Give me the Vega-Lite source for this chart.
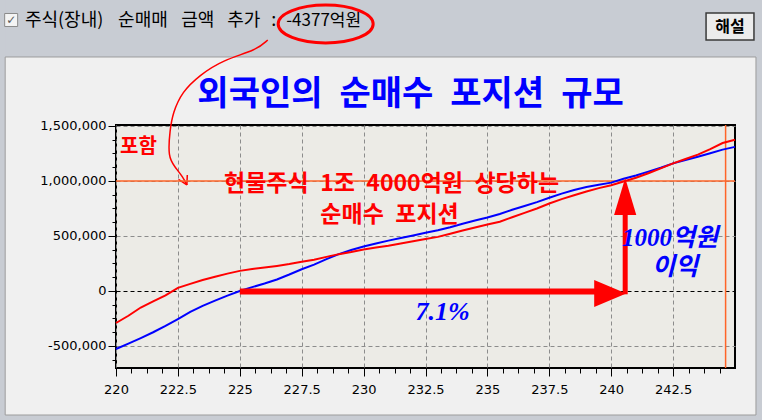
{
  "$schema": "https://vega.github.io/schema/vega-lite/v6.json",
  "width": 619,
  "height": 243,
  "autosize": {"type": "none"},
  "padding": {"left": 116, "top": 125, "right": 27, "bottom": 52},
  "background": "#f0f0f0",
  "config": {
    "view": {"stroke": "#000000", "strokeWidth": 2, "fill": "#ecebe6"},
    "text": {"font": "Noto Sans CJK KR"}
  },
  "datasets": {
    "series": [
      {"s": "blue", "x": 220, "y": -527000}, {"s": "blue", "x": 220.5, "y": -478000}, {"s": "blue", "x": 221, "y": -428000},
      {"s": "blue", "x": 221.5, "y": -375000}, {"s": "blue", "x": 222, "y": -318000}, {"s": "blue", "x": 222.5, "y": -255000},
      {"s": "blue", "x": 223, "y": -190000}, {"s": "blue", "x": 223.5, "y": -135000}, {"s": "blue", "x": 224, "y": -88000},
      {"s": "blue", "x": 224.5, "y": -42000}, {"s": "blue", "x": 225, "y": 0}, {"s": "blue", "x": 225.5, "y": 35000},
      {"s": "blue", "x": 226, "y": 68000}, {"s": "blue", "x": 226.5, "y": 105000}, {"s": "blue", "x": 227, "y": 150000},
      {"s": "blue", "x": 227.5, "y": 198000}, {"s": "blue", "x": 228, "y": 240000}, {"s": "blue", "x": 228.5, "y": 290000},
      {"s": "blue", "x": 229, "y": 335000}, {"s": "blue", "x": 229.5, "y": 372000}, {"s": "blue", "x": 230, "y": 405000},
      {"s": "blue", "x": 230.5, "y": 432000}, {"s": "blue", "x": 231, "y": 458000}, {"s": "blue", "x": 231.5, "y": 482000},
      {"s": "blue", "x": 232, "y": 505000}, {"s": "blue", "x": 232.5, "y": 530000}, {"s": "blue", "x": 233, "y": 553000},
      {"s": "blue", "x": 233.5, "y": 580000}, {"s": "blue", "x": 234, "y": 612000}, {"s": "blue", "x": 234.5, "y": 640000},
      {"s": "blue", "x": 235, "y": 668000}, {"s": "blue", "x": 235.5, "y": 700000}, {"s": "blue", "x": 236, "y": 738000},
      {"s": "blue", "x": 236.5, "y": 772000}, {"s": "blue", "x": 237, "y": 808000}, {"s": "blue", "x": 237.5, "y": 848000},
      {"s": "blue", "x": 238, "y": 885000}, {"s": "blue", "x": 238.5, "y": 918000}, {"s": "blue", "x": 239, "y": 945000},
      {"s": "blue", "x": 239.5, "y": 965000}, {"s": "blue", "x": 240, "y": 985000}, {"s": "blue", "x": 240.5, "y": 1020000},
      {"s": "blue", "x": 241, "y": 1050000}, {"s": "blue", "x": 241.5, "y": 1085000}, {"s": "blue", "x": 242, "y": 1120000},
      {"s": "blue", "x": 242.5, "y": 1160000}, {"s": "blue", "x": 243, "y": 1190000}, {"s": "blue", "x": 243.5, "y": 1220000},
      {"s": "blue", "x": 244, "y": 1252000}, {"s": "blue", "x": 244.5, "y": 1285000}, {"s": "blue", "x": 245, "y": 1310000},
      {"s": "red", "x": 220, "y": -291000}, {"s": "red", "x": 220.5, "y": -225000}, {"s": "red", "x": 221, "y": -150000},
      {"s": "red", "x": 221.5, "y": -95000}, {"s": "red", "x": 222, "y": -40000}, {"s": "red", "x": 222.5, "y": 28000},
      {"s": "red", "x": 223, "y": 65000}, {"s": "red", "x": 223.5, "y": 100000}, {"s": "red", "x": 224, "y": 130000},
      {"s": "red", "x": 224.5, "y": 158000}, {"s": "red", "x": 225, "y": 183000}, {"s": "red", "x": 225.5, "y": 200000},
      {"s": "red", "x": 226, "y": 213000}, {"s": "red", "x": 226.5, "y": 228000}, {"s": "red", "x": 227, "y": 245000},
      {"s": "red", "x": 227.5, "y": 265000}, {"s": "red", "x": 228, "y": 285000}, {"s": "red", "x": 228.5, "y": 310000},
      {"s": "red", "x": 229, "y": 335000}, {"s": "red", "x": 229.5, "y": 355000}, {"s": "red", "x": 230, "y": 378000},
      {"s": "red", "x": 230.5, "y": 395000}, {"s": "red", "x": 231, "y": 412000}, {"s": "red", "x": 231.5, "y": 432000},
      {"s": "red", "x": 232, "y": 452000}, {"s": "red", "x": 232.5, "y": 472000}, {"s": "red", "x": 233, "y": 492000},
      {"s": "red", "x": 233.5, "y": 520000}, {"s": "red", "x": 234, "y": 550000}, {"s": "red", "x": 234.5, "y": 578000},
      {"s": "red", "x": 235, "y": 605000}, {"s": "red", "x": 235.5, "y": 630000}, {"s": "red", "x": 236, "y": 670000},
      {"s": "red", "x": 236.5, "y": 710000}, {"s": "red", "x": 237, "y": 750000}, {"s": "red", "x": 237.5, "y": 795000},
      {"s": "red", "x": 238, "y": 835000}, {"s": "red", "x": 238.5, "y": 870000}, {"s": "red", "x": 239, "y": 905000},
      {"s": "red", "x": 239.5, "y": 935000}, {"s": "red", "x": 240, "y": 962000}, {"s": "red", "x": 240.5, "y": 995000},
      {"s": "red", "x": 241, "y": 1030000}, {"s": "red", "x": 241.5, "y": 1070000}, {"s": "red", "x": 242, "y": 1115000},
      {"s": "red", "x": 242.5, "y": 1160000}, {"s": "red", "x": 243, "y": 1200000}, {"s": "red", "x": 243.5, "y": 1240000},
      {"s": "red", "x": 244, "y": 1290000}, {"s": "red", "x": 244.5, "y": 1345000}, {"s": "red", "x": 245, "y": 1375000}
    ],
    "strips": [
      {"x": 215, "x2": 246.3, "y": 2127273, "y2": 2700000},
      {"x": 215, "x2": 215.524, "y": -1300000, "y2": 2700000},
      {"x": 245.847, "x2": 246.3, "y": -1300000, "y2": 2700000},
      {"x": 215, "x2": 246.3, "y": -1300000, "y2": -1127273}
    ],
    "panel": [{"x": 215.524, "x2": 245.847, "y": -1127273, "y2": 2127273}],
    "checkbox": [{"x": 215.766, "y": 2463636, "t": "✓"}],
    "header": [
      {"x": 217.903, "y": 2454545, "t": "주식(장내)"},
      {"x": 221.089, "y": 2454545, "t": "순매매"},
      {"x": 223.306, "y": 2454545, "t": "금액"},
      {"x": 225.161, "y": 2454545, "t": "추가"},
      {"x": 226.371, "y": 2454545, "t": ":"}
    ],
    "amount": [{"x": 228.387, "y": 2454545, "t": "-4377억원"}],
    "ellipse": [{"x": 228.468, "y": 2427273}],
    "curve": [
      {"i": 1, "x": 226.129, "y": 2281818},
      {"i": 2, "x": 225.685, "y": 2190909},
      {"i": 3, "x": 224.315, "y": 2100000},
      {"i": 4, "x": 223.387, "y": 1963636},
      {"i": 5, "x": 222.661, "y": 1809091},
      {"i": 6, "x": 222.298, "y": 1618182},
      {"i": 7, "x": 222.177, "y": 1463636},
      {"i": 8, "x": 222.097, "y": 1218182},
      {"i": 9, "x": 222.379, "y": 1127273},
      {"i": 10, "x": 222.702, "y": 1036364},
      {"i": 11, "x": 222.863, "y": 963636}
    ],
    "curvehead": [
      {"x": 222.863, "y": 963636, "x2": 222.879, "y2": 1054545},
      {"x": 222.863, "y": 963636, "x2": 222.524, "y2": 1013636}
    ],
    "button": [{"x": 243.831, "x2": 245.766, "y": 2527273, "y2": 2281818}],
    "buttontext": [{"x": 244.798, "y": 2400000, "t": "해설"}],
    "title": [{"x": 231.895, "y": 1781818, "t": "외국인의\u2002순매수\u2002포지션\u2002규모"}],
    "hline": [{"x": 220, "x2": 245, "y": 1000000}],
    "vline": [{"x": 244.62, "y": -700000, "y2": 1509000}],
    "harrow": [{"x": 225, "x2": 239.4, "y": -5000}],
    "harrowhead": [{"x": 239.96, "y": -22727}],
    "varrow": [{"x": 240.565, "y": -30000, "y2": 718182}],
    "varrowhead": [{"x": 240.565, "y": 859091}],
    "redsmall": [{"x": 220.161, "y": 1309091, "t": "포함"}],
    "redbig": [
      {"x": 231.129, "y": 972727, "t": "현물주식\u20021조\u20024000억원\u2002상당하는"},
      {"x": 231.048, "y": 690909, "t": "순매수\u2002포지션"}
    ],
    "pct": [{"x": 233.185, "y": -190909, "t": "7.1%"}],
    "profit": [
      {"x": 242.379, "y": 481818, "t": "1000억원"},
      {"x": 242.581, "y": 218182, "t": "이익"}
    ]
  },
  "encoding": {
    "x": {
      "field": "x",
      "type": "quantitative",
      "scale": {"domain": [220, 245], "nice": false, "zero": false},
      "axis": {
        "title": null,
        "orient": "bottom",
        "domain": false,
        "values": [220, 220.625, 221.25, 221.875, 222.5, 223.125, 223.75, 224.375, 225, 225.625, 226.25, 226.875, 227.5, 228.125, 228.75, 229.375, 230, 230.625, 231.25, 231.875, 232.5, 233.125, 233.75, 234.375, 235, 235.625, 236.25, 236.875, 237.5, 238.125, 238.75, 239.375, 240, 240.625, 241.25, 241.875, 242.5, 243.125, 243.75, 244.375],
        "labelExpr": "datum.value % 2.5 === 0 ? format(datum.value, '~f') : ''",
        "labelFont": "DejaVu Sans",
        "labelFontSize": 13,
        "labelColor": "#000000",
        "labelPadding": 7,
        "labelFlush": false,
        "labelOverlap": false,
        "labelBound": false,
        "tickColor": "#000000",
        "tickSize": {"condition": {"test": "datum.value % 2.5 === 0", "value": 8}, "value": 5},
        "grid": true,
        "gridColor": "#8c8c8c",
        "gridDash": [4, 3],
        "gridOpacity": {"condition": {"test": "datum.value % 2.5 === 0", "value": 1}, "value": 0}
      }
    },
    "y": {
      "field": "y",
      "type": "quantitative",
      "scale": {"domain": [-700000, 1509000], "nice": false, "zero": false},
      "axis": {
        "title": null,
        "orient": "left",
        "domain": false,
        "values": [-625000, -500000, -375000, -250000, -125000, 0, 125000, 250000, 375000, 500000, 625000, 750000, 875000, 1000000, 1125000, 1250000, 1375000, 1500000],
        "labelExpr": "datum.value % 500000 === 0 ? replace(format(datum.value, ','), '−', '-') : ''",
        "labelFont": "DejaVu Sans",
        "labelFontSize": 13,
        "labelColor": "#000000",
        "labelPadding": 2,
        "labelOverlap": false,
        "labelBound": false,
        "tickColor": "#000000",
        "tickSize": {"condition": {"test": "datum.value % 500000 === 0", "value": 8}, "value": 4},
        "grid": true,
        "gridColor": {"condition": {"test": "datum.value === 0", "value": "#000000"}, "value": "#8c8c8c"},
        "gridDash": [4, 3],
        "gridOpacity": {"condition": {"test": "datum.value % 500000 === 0", "value": 1}, "value": 0}
      }
    }
  },
  "layer": [
    {"data": {"name": "strips"}, "mark": {"type": "rect", "color": "#c8ccd3"}, "encoding": {"x2": {"field": "x2"}, "y2": {"field": "y2"}}},
    {"data": {"name": "panel"}, "mark": {"type": "rect", "filled": false, "stroke": "#9c9c9c", "strokeWidth": 1}, "encoding": {"x2": {"field": "x2"}, "y2": {"field": "y2"}}},
    {"data": {"name": "checkbox"}, "mark": {"type": "point", "shape": "square", "size": 169, "filled": true, "fill": "#f4f4f4", "stroke": "#8a8a8a", "strokeWidth": 1, "opacity": 1}},
    {"data": {"name": "checkbox"}, "mark": {"type": "text", "font": "DejaVu Sans", "fontSize": 12, "fontWeight": "bold", "color": "#5a5a5a", "align": "center", "baseline": "middle"}, "encoding": {"text": {"field": "t"}}},
    {"data": {"name": "header"}, "mark": {"type": "text", "fontSize": 18, "color": "#000000", "align": "center", "baseline": "middle"}, "encoding": {"text": {"field": "t"}}},
    {"data": {"name": "amount"}, "mark": {"type": "text", "fontSize": 17, "color": "#000000", "align": "center", "baseline": "middle"}, "encoding": {"text": {"field": "t"}}},
    {"data": {"name": "ellipse"}, "mark": {"type": "point", "shape": "M-1,0A1,0.4,0,1,0,1,0A1,0.4,0,1,0,-1,0Z", "size": 9025, "filled": false, "stroke": "#ff0000", "strokeWidth": 3, "opacity": 1}},
    {"data": {"name": "curve"}, "mark": {"type": "line", "interpolate": "basis", "color": "#ff0000", "strokeWidth": 1.5}, "encoding": {"order": {"field": "i", "type": "quantitative"}}},
    {"data": {"name": "curvehead"}, "mark": {"type": "rule", "color": "#ff0000", "strokeWidth": 1.5}, "encoding": {"x2": {"field": "x2"}, "y2": {"field": "y2"}}},
    {"data": {"name": "button"}, "mark": {"type": "rect", "fill": "#ececec", "stroke": "#3a3a3a", "strokeWidth": 1.5}, "encoding": {"x2": {"field": "x2"}, "y2": {"field": "y2"}}},
    {"data": {"name": "buttontext"}, "mark": {"type": "text", "fontSize": 16, "fontWeight": "bold", "color": "#000000", "align": "center", "baseline": "middle"}, "encoding": {"text": {"field": "t"}}},
    {"data": {"name": "title"}, "mark": {"type": "text", "fontSize": 34, "fontWeight": "bold", "color": "#0000ff", "align": "center", "baseline": "middle"}, "encoding": {"text": {"field": "t"}}},
    {"data": {"name": "hline"}, "mark": {"type": "rule", "color": "#ff6428", "strokeWidth": 1.5}, "encoding": {"x2": {"field": "x2"}}},
    {"data": {"name": "vline"}, "mark": {"type": "rule", "color": "#ff6428", "strokeWidth": 1.5}, "encoding": {"y2": {"field": "y2"}}},
    {"data": {"name": "series"}, "mark": {"type": "line", "strokeWidth": 2}, "encoding": {"color": {"field": "s", "type": "nominal", "scale": {"domain": ["red", "blue"], "range": ["#ff0000", "#0000ff"]}, "legend": null}}},
    {"data": {"name": "harrow"}, "mark": {"type": "rule", "color": "#ff0000", "strokeWidth": 6}, "encoding": {"x2": {"field": "x2"}}},
    {"data": {"name": "harrowhead"}, "mark": {"type": "point", "shape": "M-1,-0.84L1,0L-1,0.84Z", "size": 1024, "filled": true, "color": "#ff0000", "opacity": 1}},
    {"data": {"name": "varrow"}, "mark": {"type": "rule", "color": "#ff0000", "strokeWidth": 5}, "encoding": {"y2": {"field": "y2"}}},
    {"data": {"name": "varrowhead"}, "mark": {"type": "point", "shape": "M-0.6,1L0,-1L0.6,1Z", "size": 1369, "filled": true, "color": "#ff0000", "opacity": 1}},
    {"data": {"name": "redsmall"}, "mark": {"type": "text", "fontSize": 20, "fontWeight": "bold", "color": "#ff0000", "align": "left", "baseline": "middle"}, "encoding": {"text": {"field": "t"}}},
    {"data": {"name": "redbig"}, "mark": {"type": "text", "fontSize": 23, "fontWeight": "bold", "color": "#ff0000", "align": "center", "baseline": "middle"}, "encoding": {"text": {"field": "t"}}},
    {"data": {"name": "pct"}, "mark": {"type": "text", "font": "Liberation Serif", "fontSize": 26, "fontWeight": "bold", "fontStyle": "italic", "color": "#0000ff", "align": "center", "baseline": "middle"}, "encoding": {"text": {"field": "t"}}},
    {"data": {"name": "profit"}, "mark": {"type": "text", "font": "Liberation Serif, Noto Sans CJK KR", "fontSize": 25, "fontWeight": "bold", "fontStyle": "italic", "color": "#0000ff", "align": "center", "baseline": "middle"}, "encoding": {"text": {"field": "t"}}}
  ]
}
